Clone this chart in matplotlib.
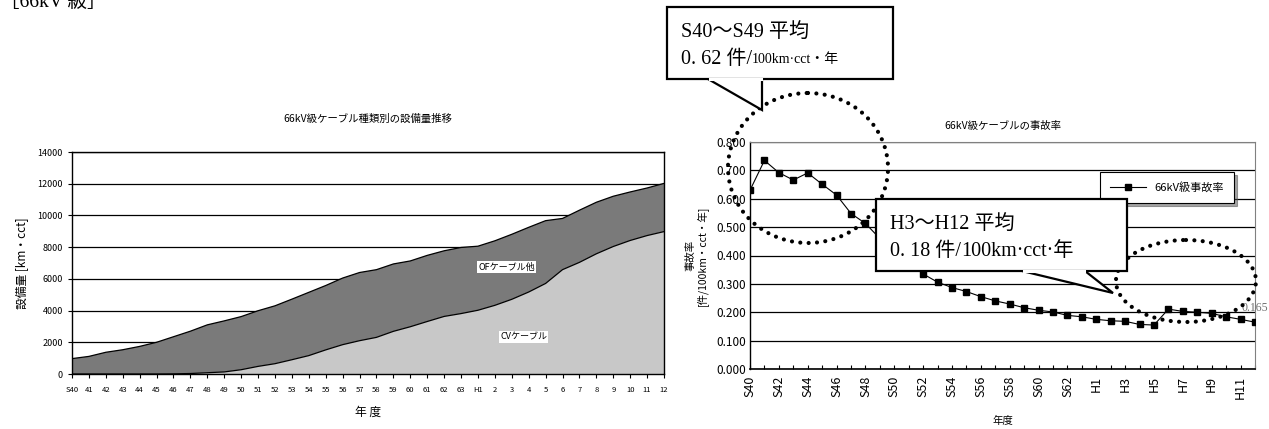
import numpy as np
import matplotlib
matplotlib.use("Agg")
import matplotlib.pyplot as plt
from matplotlib.patches import Ellipse, Polygon, Rectangle

plt.rcParams['font.family'] = ['Noto Sans CJK JP', 'DejaVu Sans']
SERIF = ['Liberation Serif', 'Noto Sans CJK JP']

# --- data -------------------------------------------------------------
# 設備量 (km・cct), S40 .. S63, H1 .. H12
years_left = ['S40'] + [str(y) for y in range(41, 64)] + ['H1'] + [str(y) for y in range(2, 13)]
total_km = [970, 1110, 1370, 1530, 1740, 2000, 2350, 2700, 3100, 3350,
            3620, 3990, 4300, 4720, 5150, 5580, 6050, 6400, 6580, 6940,
            7130, 7480, 7770, 7980, 8060, 8400, 8810, 9250, 9670, 9810,
            10330, 10830, 11210, 11480, 11730, 12020]
cv_km = [0, 0, 0, 0, 0, 0, 10, 30, 80, 130,
         270, 480, 650, 900, 1160, 1520, 1850, 2100, 2310, 2690,
         2980, 3310, 3630, 3810, 4020, 4330, 4710, 5170, 5710, 6580,
         7040, 7580, 8040, 8420, 8730, 8980]

# 事故率 (件/100km・cct・年)
years_right = ['S%d' % y for y in range(40, 64)] + ['H%d' % y for y in range(1, 13)]
fault_rate = [0.630, 0.735, 0.692, 0.666, 0.691, 0.651, 0.613, 0.548, 0.513, 0.460,
              0.420, 0.375, 0.335, 0.306, 0.287, 0.273, 0.255, 0.240, 0.229, 0.216,
              0.207, 0.201, 0.189, 0.184, 0.175, 0.170, 0.168, 0.157, 0.155, 0.211,
              0.203, 0.200, 0.196, 0.184, 0.175, 0.165]

W, H = 1269, 429
fig = plt.figure(figsize=(W / 100, H / 100), dpi=100)

def px_axes(l, t, r, b):
    return fig.add_axes([l / W, 1 - b / H, (r - l) / W, (b - t) / H])

# --- left: 設備量推移 ----------------------------------------------------
ax1 = px_axes(72, 152, 664, 374)
x1 = np.arange(len(years_left))
ax1.fill_between(x1, cv_km, total_km, facecolor='#7a7a7a', edgecolor='none', zorder=2)
ax1.fill_between(x1, 0, cv_km, facecolor='#c8c8c8', edgecolor='none', zorder=2)
ax1.plot(x1, total_km, color='black', lw=0.9, zorder=3)
ax1.plot(x1, cv_km, color='black', lw=0.9, zorder=3)
ax1.set_xlim(0, len(x1) - 1)
ax1.set_ylim(0, 14000)
ax1.set_yticks(range(0, 14001, 2000))
ax1.set_xticks(x1)
ax1.set_xticklabels(years_left, fontsize=5.5)
ax1.tick_params(axis='y', labelsize=6.5, length=3, width=0.8)
ax1.tick_params(axis='x', length=3, width=0.8, pad=6)
ax1.grid(axis='y', color='black', lw=0.9, zorder=1)
for s in ax1.spines.values():
    s.set_linewidth(1.0)
ax1.set_title('66kV級ケーブル種類別の設備量推移', fontsize=7.5, pad=22)
ax1.set_ylabel('設備量 [km・cct]', fontsize=8.5, labelpad=6)
ax1.set_xlabel('年 度', fontsize=8.5, labelpad=8)
ax1.text(25.7, 6750, 'OFケーブル他', fontsize=6.5, ha='center', va='center', zorder=4,
         bbox=dict(facecolor='white', edgecolor='none', pad=1))
ax1.text(26.7, 2330, 'CVケーブル', fontsize=6.5, ha='center', va='center', zorder=4,
         bbox=dict(facecolor='white', edgecolor='none', pad=1))

# --- right: 事故率 -------------------------------------------------------
ax2 = px_axes(750, 142, 1255, 369)
x2 = np.arange(len(years_right))
ax2.plot(x2, fault_rate, color='black', lw=0.8, marker='s', ms=4.2,
         label='66kV級事故率', zorder=3)
ax2.set_xlim(0, len(x2) - 1)
ax2.set_ylim(0, 0.8)
ax2.set_yticks(np.arange(0, 0.81, 0.1))
ax2.set_yticklabels(['%.3f' % v for v in np.arange(0, 0.81, 0.1)], fontsize=8.5)
ax2.set_xticks(x2)
ax2.set_xticklabels([lab if i % 2 == 0 else '' for i, lab in enumerate(years_right)],
                    rotation=90, fontsize=9)
ax2.tick_params(axis='x', direction='in', length=3, width=0.8, pad=5)
ax2.tick_params(axis='y', length=0, pad=3)
ax2.grid(axis='y', color='black', lw=0.9, zorder=1)
ax2.spines['top'].set_color('#808080')
ax2.spines['right'].set_color('#808080')
ax2.spines['left'].set_linewidth(1.0)
ax2.spines['bottom'].set_linewidth(1.2)
ax2.set_title('66kV級ケーブルの事故率', fontsize=7.5, pad=9)
ax2.set_xlabel('年度', fontsize=7.5, labelpad=12)
ax2.set_ylabel('事故率\n[件/100km・cct・年]', fontsize=7.5, labelpad=5)
ax2.annotate('%.3f' % fault_rate[-1], (x2[-1], fault_rate[-1]), xytext=(-10, 10),
             textcoords='offset points', fontsize=8.5, color='#707070',
             family=SERIF, va='center', annotation_clip=False, zorder=5)
leg = ax2.legend(loc='upper left', bbox_to_anchor=((1100 - 750) / 505, (369 - 172) / 227),
                 fontsize=8, frameon=True, fancybox=False, shadow=True,
                 borderpad=0.9, handlelength=3.2, borderaxespad=0)
leg.get_frame().set_edgecolor('black')
leg.get_frame().set_linewidth(0.8)

# --- overlay: callouts and dotted circles (pixel coords) ----------------
ov = fig.add_axes([0, 0, 1, 1], zorder=10)
ov.set_xlim(0, W)
ov.set_ylim(H, 0)
ov.axis('off')
ov.patch.set_alpha(0)

for cx, cy, ew, eh in [(808, 168, 160, 150), (1186, 281, 140, 82)]:
    ov.add_patch(Ellipse((cx, cy), ew, eh, fill=False, lw=3.0,
                         linestyle=(0, (0.01, 2.0)), capstyle='round', edgecolor='black'))

def callout(l, t, r, b, base1, base2, tip, line1, line2a, line2b, small):
    ov.add_patch(Polygon([(base1, b), tip, (base2, b)], closed=True,
                         facecolor='white', edgecolor='black', lw=1.6, joinstyle='miter'))
    ov.add_patch(Rectangle((l, t), r - l, b - t, facecolor='white', edgecolor='black', lw=1.6))
    ov.plot([base1 + 1.5, base2 - 1.5], [b, b], color='white', lw=2.2)
    ov.text(l + 14, t + 25, line1, fontsize=14.5, family=SERIF, va='center')
    t2 = ov.text(l + 14, t + 53, line2a, fontsize=14.5, family=SERIF, va='center')
    ov.annotate(line2b, xycoords=t2, xy=(1, 0.5), va='center', fontsize=small, family=SERIF)

callout(667, 7, 893, 79, 708, 762, (762, 110),
        'S40～S49 平均', '0. 62 件/', '100km·cct・年', 10)
callout(876, 199, 1127, 271, 1022, 1085, (1113, 293),
        'H3～H12 平均', '0. 18 件/', '100km·cct·年', 14.5)

# cut-off heading at the top left
fig.text(0.0, 1 - 2 / H, '［66kV 級］', fontsize=14, family=SERIF, va='center', ha='left')

fig.savefig('out.png', dpi=100)
